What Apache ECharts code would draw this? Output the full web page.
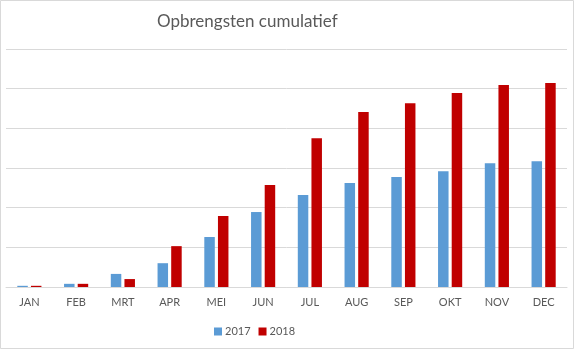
<!DOCTYPE html>
<html><head><meta charset="utf-8">
<script src="https://cdn.jsdelivr.net/npm/echarts@6/dist/echarts.min.js"></script>
<style>html,body{margin:0;padding:0;background:#fff}#c{width:574px;height:349px}</style>
</head><body><div id="c"></div>
<script>
var categories = ['JAN','FEB','MRT','APR','MEI','JUN','JUL','AUG','SEP','OKT','NOV','DEC'];
var values2017 = [0.03,0.08,0.33,0.6,1.26,1.89,2.32,2.62,2.77,2.92,3.12,3.17];
var values2018 = [0.03,0.08,0.2,1.03,1.79,2.57,3.75,4.41,4.63,4.89,5.09,5.14];
var seriesNames = ['2017','2018'];
var chart = echarts.init(document.getElementById('c'));
chart.setOption({
  animation:false,
  backgroundColor:'#fff',
  title:{text:'Opbrengsten cumulatief',left:152,top:8,textStyle:{fontFamily:'Lato',fontSize:17,fontWeight:'normal',color:'#595959'}},
  legend:{data:seriesNames,left:209,top:321,itemWidth:8,itemHeight:8,itemGap:8,icon:'rect',
    textStyle:{fontFamily:'Lato',fontSize:11,color:'#595959',padding:[0,0,0,-2]}},
  grid:{left:6,right:7,top:49,bottom:62},
  xAxis:{type:'category',data:categories,axisTick:{show:false},
    axisLine:{lineStyle:{color:'#d9d9d9',width:1}},
    axisLabel:{fontFamily:'Lato',fontSize:11,color:'#595959',margin:10}},
  yAxis:{type:'value',min:0,max:6,interval:1,axisLabel:{show:false},axisLine:{show:false},axisTick:{show:false},
    splitLine:{lineStyle:{color:'#d9d9d9',width:1}}},
  series:[
    {name:seriesNames[0],type:'bar',data:values2017,barWidth:10.5,barGap:'30%',itemStyle:{color:'#5B9BD5'}},
    {name:seriesNames[1],type:'bar',data:values2018,barWidth:10.5,itemStyle:{color:'#C00000'}}
  ],
  graphic:[{type:'rect',shape:{x:0.5,y:0.5,width:573,height:348},style:{fill:null,stroke:'#d9d9d9',lineWidth:1},silent:true}]
});
</script></body></html>
